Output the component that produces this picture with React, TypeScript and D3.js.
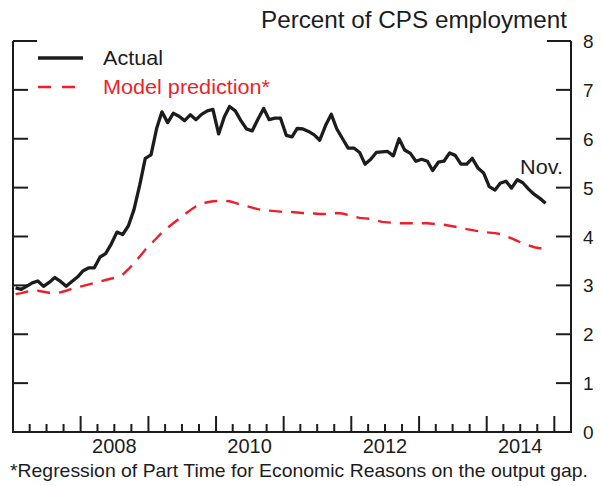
import React, { useRef, useEffect } from "react";
import * as d3 from "d3";

// Part time for economic reasons, monthly from Jan 2007 to Nov 2014
const actual = [
  2.95, 2.92, 2.98, 3.05, 3.09, 2.98, 3.06, 3.16, 3.08, 2.98,
  3.08, 3.17, 3.30, 3.36, 3.36, 3.58, 3.65, 3.85, 4.09, 4.04,
  4.22, 4.55, 5.05, 5.60, 5.67, 6.22, 6.55, 6.33, 6.52, 6.46,
  6.37, 6.49, 6.39, 6.50, 6.57, 6.60, 6.10, 6.45, 6.66, 6.57,
  6.37, 6.20, 6.16, 6.40, 6.62, 6.39, 6.42, 6.42, 6.07, 6.04,
  6.21, 6.20, 6.15, 6.08, 5.97, 6.27, 6.50, 6.20, 6.00, 5.81,
  5.81, 5.72, 5.48, 5.58, 5.72, 5.73, 5.74, 5.65, 6.00, 5.77,
  5.70, 5.54, 5.58, 5.54, 5.35, 5.52, 5.54, 5.71, 5.66, 5.48,
  5.48, 5.60, 5.40, 5.30, 5.02, 4.95, 5.09, 5.13, 4.99, 5.16,
  5.10, 4.97, 4.86, 4.78, 4.68
];

const model = [
  2.82, 2.84, 2.87, 2.89, 2.89, 2.87, 2.85, 2.84, 2.86, 2.89,
  2.93, 2.96, 2.99, 3.02, 3.05, 3.08, 3.11, 3.14, 3.17, 3.22,
  3.33, 3.45, 3.59, 3.73, 3.85, 3.97, 4.08, 4.18, 4.27, 4.36,
  4.45, 4.54, 4.62, 4.67, 4.70, 4.72, 4.73, 4.73, 4.72, 4.69,
  4.65, 4.62, 4.59, 4.56, 4.54, 4.53, 4.52, 4.51, 4.50, 4.50,
  4.49, 4.48, 4.48, 4.47, 4.46, 4.46, 4.47, 4.48, 4.47, 4.44,
  4.41, 4.38, 4.37, 4.36, 4.33, 4.30, 4.29, 4.28, 4.27, 4.27,
  4.27, 4.27, 4.27, 4.27, 4.26, 4.25, 4.24, 4.22, 4.20, 4.18,
  4.15, 4.13, 4.11, 4.09, 4.08, 4.07, 4.05, 4.01, 3.96, 3.91,
  3.86, 3.82, 3.78, 3.76, 3.76
];

const yTicks = [1, 2, 3, 4, 5, 6, 7, 8];
const yearLabels = [2008, 2010, 2012, 2014];

const FONT = "'Liberation Sans', Arial, Helvetica, sans-serif";
const RED = "#ee1f2b";
const INK = "#1c1c1c";

export default function App() {
  const ref = useRef(null);

  useEffect(() => {
    const svg = d3.select(ref.current);
    svg.selectAll("*").remove();

    const x = d3.scaleTime()
      .domain([new Date(2007, 0, 1), new Date(2015, 3, 1)])
      .range([13, 571]);
    const y = d3.scaleLinear().domain([0, 8]).range([432, 41]);

    const month = (i) => new Date(2007, i, 15);

    // axes frame
    svg.append("path")
      .attr("d", `M13,${y(8)}V${y(0)}H571V${y(8)}`)
      .attr("fill", "none")
      .attr("stroke", INK)
      .attr("stroke-width", 2);

    // left / right ticks
    yTicks.forEach(t => {
      const len = t === 8 ? 24 : 15;
      svg.append("line")
        .attr("x1", 13).attr("x2", 13 + len)
        .attr("y1", y(t)).attr("y2", y(t))
        .attr("stroke", INK).attr("stroke-width", 2);
      svg.append("line")
        .attr("x1", 571 - len).attr("x2", 571)
        .attr("y1", y(t)).attr("y2", y(t))
        .attr("stroke", INK).attr("stroke-width", 2);
    });

    svg.selectAll("text.ytick")
      .data([0, ...yTicks])
      .enter()
      .append("text")
      .attr("x", 583)
      .attr("y", d => y(d) + 7)
      .style("font-family", FONT)
      .style("font-size", "19px")
      .attr("fill", INK)
      .text(d => d);

    // quarterly ticks along the bottom, long at each January
    const quarters = d3.timeMonth.every(3).range(new Date(2007, 3, 1), new Date(2015, 3, 1));
    svg.selectAll("line.xtick")
      .data(quarters)
      .enter()
      .append("line")
      .attr("x1", d => x(d)).attr("x2", d => x(d))
      .attr("y1", y(0))
      .attr("y2", d => y(0) - (d.getMonth() === 0 ? 16 : 8))
      .attr("stroke", INK)
      .attr("stroke-width", 2);

    svg.selectAll("text.year")
      .data(yearLabels)
      .enter()
      .append("text")
      .attr("x", d => x(new Date(d, 6, 1)))
      .attr("y", 453)
      .attr("text-anchor", "middle")
      .style("font-family", FONT)
      .style("font-size", "20px")
      .attr("fill", INK)
      .text(d => d);

    // series
    const line = d3.line()
      .x((d, i) => x(month(i)))
      .y(d => y(d));

    svg.append("path")
      .attr("d", line(model))
      .attr("fill", "none")
      .attr("stroke", RED)
      .attr("stroke-width", 2.4)
      .attr("stroke-dasharray", "13,9");

    svg.append("path")
      .attr("d", line(actual))
      .attr("fill", "none")
      .attr("stroke", INK)
      .attr("stroke-width", 3.3)
      .attr("stroke-linejoin", "round");

    // legend
    svg.append("line")
      .attr("x1", 38).attr("x2", 83)
      .attr("y1", 58).attr("y2", 58)
      .attr("stroke", INK).attr("stroke-width", 3.3);
    svg.append("line")
      .attr("x1", 38).attr("x2", 76)
      .attr("y1", 87).attr("y2", 87)
      .attr("stroke", RED).attr("stroke-width", 2.4)
      .attr("stroke-dasharray", "13,11");

    const label = (txt, lx, ly, size, len, color, anchor = "start") =>
      svg.append("text")
        .attr("x", lx).attr("y", ly)
        .attr("text-anchor", anchor)
        .attr("textLength", len)
        .attr("lengthAdjust", "spacingAndGlyphs")
        .style("font-family", FONT)
        .style("font-size", size + "px")
        .attr("fill", color)
        .text(txt);

    label("Actual", 103, 65, 21, 60, INK);
    label("Model prediction*", 103, 94, 21, 167, RED);
    label("Percent of CPS employment", 261, 28, 24, 306, INK);
    label("Nov.", 520, 174, 21, 43, INK);
    label("*Regression of Part Time for Economic Reasons on the output gap.", 10, 477, 19, 578, INK);
  }, []);

  return (
    <svg
      ref={ref}
      width={602}
      height={486}
      style={{ position: "absolute", left: 0, top: 0, background: "#fff" }}
    />
  );
}
